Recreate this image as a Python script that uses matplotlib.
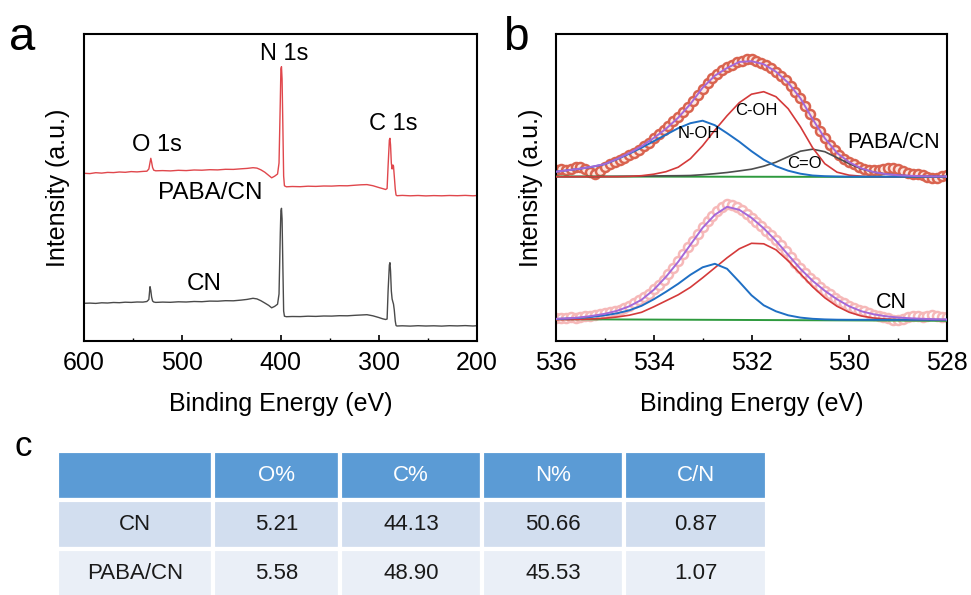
import numpy as np
import matplotlib
matplotlib.use("Agg")
import matplotlib.pyplot as plt
from matplotlib.ticker import MultipleLocator

plt.rcParams['font.family'] = ['Liberation Sans', 'DejaVu Sans']

# ---------------- panel a : XPS survey (a.u.) ----------------
survey_energy = [600, 594, 588, 582, 576, 570, 564, 558, 552, 546,
                 540, 536, 534, 532.8, 532, 531.2, 530.2, 529, 527, 520,
                 512, 504, 496, 488, 480, 472, 464, 456, 448, 440,
                 434, 428, 424, 420, 416, 412, 409, 406, 403, 401.5,
                 400.2, 399.6, 399.0, 398.4, 397.6, 396.8, 396, 394, 388, 380,
                 372, 364, 356, 348, 340, 332, 324, 318, 312, 306,
                 300, 296, 293, 291.5, 290.5, 289.2, 288.6, 288.0, 287.2, 286.4,
                 285.6, 285.0, 284.2, 283.2, 282.4, 281.5, 276, 268, 260, 252,
                 244, 236, 228, 220, 212, 204, 200]
survey_paba = [167.7, 167.4, 168.3, 167.9, 168.6, 168.4, 169.0, 168.7, 169.4, 169.1,
               169.6, 169.8, 172.0, 178.5, 182.7, 179.0, 173.5, 170.8, 170.2, 170.4,
               170.1, 170.7, 170.4, 171.0, 170.8, 171.3, 171.1, 171.7, 171.6, 172.2,
               172.6, 173.3, 172.9, 171.2, 168.8, 165.6, 163.2, 164.8, 167.0, 178,
               240, 272, 274.3, 262, 215, 165, 155.2, 154.2, 154.5, 154.3,
               154.8, 154.6, 155.0, 154.9, 155.3, 155.2, 155.8, 156.2, 156.4, 155.3,
               153.5, 152.4, 151.5, 152.5, 175, 201, 202.7, 196, 178, 172,
               176, 175, 165, 152, 146, 145.3, 145.6, 145.2, 145.5, 145.1,
               145.4, 145.2, 145.5, 145.3, 145.6, 145.2, 145.5]
survey_cn = [37.7, 37.9, 37.6, 38.2, 38.0, 38.5, 38.3, 38.8, 38.6, 39.0,
             38.9, 39.5, 41.5, 54.3, 50.5, 44, 40, 39, 38.6, 38.9,
             38.7, 39.2, 39.0, 39.5, 39.3, 39.9, 39.8, 40.3, 40.2, 40.9,
             41.6, 42.7, 42.1, 40.3, 38.0, 35.6, 33.2, 34.6, 36.8, 47,
             108, 130, 132.7, 122, 75, 30, 24.8, 24.3, 24.5, 24.4,
             24.8, 24.6, 25.0, 24.9, 25.3, 25.2, 25.7, 26.0, 26.3, 25.2,
             23.5, 22.2, 21.5, 22, 50, 76, 78.3, 70, 50, 42,
             39, 37, 31, 20, 15.5, 15.0, 15.2, 14.9, 15.3, 15.0,
             15.2, 14.9, 15.3, 15.1, 15.4, 15.0, 15.3]

# ---------------- panel b : O 1s high resolution ----------------
# measured points every 0.1 eV (536 -> 528), background subtracted
o1s_paba = [7, 7.5, 7, 8, 9.5, 10, 8, 4.5, 3, 6, 10,
            12.5, 15, 17, 19, 21.5, 24, 27, 30.5, 34, 38.5,
            42.5, 46.5, 51, 55.5, 60, 65, 70, 76, 82, 88,
            93.5, 98.5, 103, 106.5, 109.5, 112, 114.5, 116, 117.5, 117.5,
            116, 114, 111.5, 108.5, 105, 101, 96.5, 91, 85, 78.5,
            71, 62.5, 54, 46, 38.5, 32, 26.5, 22, 18, 15,
            12.5, 10, 8, 7, 6.5, 6.5, 7.5, 9, 9, 7.5,
            5.5, 4, 3, 2.5, 1.5, 0, -1.5, -1, 0.5, 1.5]
o1s_cn = [1.5, 2, 1.5, 2.5, 2, 3, 3.5, 4, 5, 5.5, 6.5,
          7.5, 9, 10, 11.5, 14, 16.5, 19.5, 22.5, 26, 30.5,
          35, 40, 46, 52, 59, 66, 72.5, 79, 86, 93,
          99, 104, 109, 113, 115.5, 115, 112.5, 110, 106, 102,
          98, 94, 89, 84.5, 80, 74.5, 69, 63, 57, 51.5,
          47, 42, 37.5, 33, 29, 25.5, 22, 19, 16.5, 14,
          12, 10, 8.5, 7, 5, 4, 2.5, 1.5, 0, -0.5,
          1, 2.5, 3.5, 4, 3, 3.5, 4.5, 3.5, 3, 2.5]

# fitted components every 0.25 eV (536 -> 528)
paba_noh = [5, 6.5, 8, 10, 12.5, 17.5, 23, 29, 35.5, 42, 48.5, 53.5, 56,
            51.5, 43.5, 35, 25.5, 17, 10.5, 6, 3, 1.2, 0.5, 0.2,
            0, 0, 0, 0, 0, 0, 0, 0, 0]
paba_coh = [0, 0, 0, 0, 0, 0, 0.3, 1, 2.5, 5, 9.5, 18, 31,
            46.5, 61, 74, 82.5, 85, 80, 68, 50, 29, 13, 4.5,
            1.5, 0.5, 0, 0, 0, 0, 0, 0, 0]
paba_co = [0, 0, 0.1, 0.1, 0.2, 0.3, 0.4, 0.5, 0.7, 0.9, 1.0, 1.2, 2,
           3, 4.2, 5.8, 7.5, 10.5, 14.5, 20, 25.5, 27.5, 25, 19,
           13, 7.8, 4.6, 2.6, 1.5, 0.9, 0.5, 0.3, 0.2]
cn_noh = [0.8, 1.3, 2, 3, 4.5, 6.5, 9.5, 14, 20.5, 28, 36, 45, 52.5,
          56, 51, 38, 24.5, 14.5, 8.5, 4.5, 2.2, 1, 0.4, 0.1,
          0, 0, 0, 0, 0, 0, 0, 0, 0]
cn_coh = [0.1, 0.2, 0.4, 0.9, 1.6, 2.8, 4.6, 7.5, 13, 19, 25, 32.5, 42,
          52, 62, 71, 76.5, 76, 70, 59, 46, 33, 22, 13.5,
          7.5, 3.8, 1.8, 0.8, 0.3, 0.1, 0, 0, 0]
cn_envelope = [1, 1.5, 2.4, 4, 6, 9, 13.5, 20, 30, 43, 58, 75, 92,
               105, 113, 110, 102, 91.5, 79, 65, 51, 39, 29, 20.5,
               13.5, 8.5, 5.5, 3.5, 2.3, 1.5, 1, 0.6, 0.4]
bg_energy = [536, 528]
paba_bg = [0.2, -0.3]
cn_bg = [0.6, -1.0]

# ---------------- panel c : table ----------------
samples = ['CN', 'PABA/CN']
columns = ['O%', 'C%', 'N%', 'C/N']
o_pct = [5.21, 5.58]
c_pct = [44.13, 48.90]
n_pct = [50.66, 45.53]
c_to_n = [0.87, 1.07]

# display offsets of the stacked spectra
OFF_PABA = 164.3
OFF_CN = 21.2

fig = plt.figure(figsize=(9.71, 5.95), dpi=100)
W, H = 971, 595


def px_axes(l, t, r, b):
    return fig.add_axes([l / W, 1 - b / H, (r - l) / W, (b - t) / H])


def style_axes(ax, major, minor):
    for sp in ax.spines.values():
        sp.set_linewidth(1.5)
    ax.set_yticks([])
    ax.xaxis.set_major_locator(MultipleLocator(major))
    ax.xaxis.set_minor_locator(MultipleLocator(minor))
    ax.tick_params(axis='x', which='major', direction='in', length=4, width=1.2,
                   labelsize=18, pad=7)
    ax.tick_params(axis='x', which='minor', direction='in', length=2.5, width=1.0)
    ax.set_xlabel('Binding Energy (eV)', fontsize=18)
    ax.set_ylabel('Intensity (a.u.)', fontsize=18)


# ---- a ----
ax_a = px_axes(84, 34, 477, 341)
ax_a.plot(survey_energy, survey_paba, color='#e0474c', lw=1.0)
ax_a.plot(survey_energy, survey_cn, color='#4a4a4a', lw=1.0)
ax_a.set_xlim(600, 200)
ax_a.set_ylim(0, 307)
style_axes(ax_a, 100, 50)
ax_a.xaxis.set_label_coords(0.5, -0.165)
ax_a.yaxis.set_label_coords(-0.036, 0.5)
ax_a.text(396.4, 287.5, 'N 1s', fontsize=17, ha='center', va='center')
ax_a.text(525.7, 196.3, 'O 1s', fontsize=17, ha='center', va='center')
ax_a.text(285.5, 216.7, 'C 1s', fontsize=17, ha='center', va='center')
ax_a.text(471.2, 147.7, 'PABA/CN', fontsize=17.5, ha='center', va='center')
ax_a.text(477.9, 57, 'CN', fontsize=17.5, ha='center', va='center')

# ---- b ----
ax_b = px_axes(556, 34, 947, 341)
e_meas = np.linspace(536, 528, len(o1s_paba))
e_fit = np.linspace(536, 528, len(paba_noh))

ax_b.plot(e_meas, OFF_PABA + np.array(o1s_paba), 'o', ms=6.5, mfc='#fde7e0',
          mec='#d9634f', mew=1.8, zorder=2)
ax_b.plot(e_meas, OFF_CN + np.array(o1s_cn), 'o', ms=6.5, mfc='white',
          mec='#f6b8b8', mew=1.8, zorder=2)

paba_env = np.array(paba_noh) + np.array(paba_coh) + np.array(paba_co)
ax_b.plot(bg_energy, OFF_PABA + np.array(paba_bg), color='#2e9a3e', lw=1.4, zorder=3)
ax_b.plot(e_fit, OFF_PABA + np.array(paba_co), color='#4d4d4d', lw=1.2, zorder=3)
ax_b.plot(e_fit, OFF_PABA + np.array(paba_coh), color='#d43a3a', lw=1.2, zorder=3)
ax_b.plot(e_fit, OFF_PABA + np.array(paba_noh), color='#1f6fc4', lw=1.4, zorder=3)
ax_b.plot(e_fit, OFF_PABA + paba_env, color='#a468d8', lw=1.4, zorder=4)

ax_b.plot(bg_energy, OFF_CN + np.array(cn_bg), color='#2e9a3e', lw=1.4, zorder=3)
ax_b.plot(e_fit, OFF_CN + np.array(cn_coh), color='#d43a3a', lw=1.2, zorder=3)
ax_b.plot(e_fit, OFF_CN + np.array(cn_noh), color='#1f6fc4', lw=1.4, zorder=3)
ax_b.plot(e_fit, OFF_CN + np.array(cn_envelope), color='#a468d8', lw=1.4, zorder=4)

ax_b.set_xlim(536, 528)
ax_b.set_ylim(0, 307)
style_axes(ax_b, 2, 1)
ax_b.xaxis.set_label_coords(0.5, -0.165)
ax_b.yaxis.set_label_coords(-0.033, 0.5)
ax_b.text(531.91, 230.7, 'C-OH', fontsize=12, ha='center', va='center', zorder=5)
ax_b.text(533.07, 207, 'N-OH', fontsize=12, ha='center', va='center', zorder=5)
ax_b.text(530.91, 177, 'C=O', fontsize=12, ha='center', va='center', zorder=5)
ax_b.text(529.1, 198, 'PABA/CN', fontsize=15.5, ha='center', va='center', zorder=5)
ax_b.text(529.13, 38.5, 'CN', fontsize=15.5, ha='center', va='center', zorder=5)

# ---- c ----
ax_c = px_axes(57, 451, 767, 598)
ax_c.axis('off')
cell_text = [[s, f'{o:.2f}', f'{c:.2f}', f'{n:.2f}', f'{r:.2f}']
             for s, o, c, n, r in zip(samples, o_pct, c_pct, n_pct, c_to_n)]
col_w = [156, 127, 142, 142, 143]
tbl = ax_c.table(cellText=cell_text, colLabels=[''] + columns, cellLoc='center',
                 colWidths=[w / sum(col_w) for w in col_w], bbox=[0, 0, 1, 1])
tbl.auto_set_font_size(False)
row_colors = {0: '#5b9bd5', 1: '#d2deef', 2: '#eaeff7'}
for (r, c), cell in tbl.get_celld().items():
    cell.set_facecolor(row_colors[r])
    cell.set_edgecolor('white')
    cell.set_linewidth(3)
    cell.get_text().set_fontsize(16)
    cell.get_text().set_color('white' if r == 0 else '#1a1a1a')

# panel letters
fig.text(22 / W, 1 - 50 / H, 'a', fontsize=34, ha='center', va='baseline')
fig.text(516 / W, 1 - 50 / H, 'b', fontsize=33, ha='center', va='baseline')
fig.text(23 / W, 1 - 456 / H, 'c', fontsize=25, ha='center', va='baseline')

fig.savefig('out.png', dpi=100)
